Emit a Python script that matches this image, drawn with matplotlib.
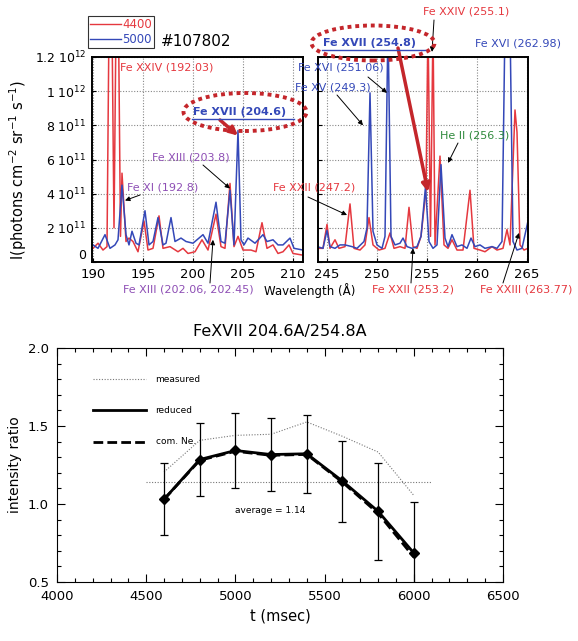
import matplotlib.pyplot as plt
from matplotlib.patches import Ellipse
from matplotlib.lines import Line2D
from matplotlib.ticker import MultipleLocator

# ---- spectra (#107802), intensity in units of 1e11 photons cm-2 sr-1 s-1 ----
# left window 190-211 A
wl_left_red = [190.0, 190.5, 191.0, 191.4, 191.6, 191.9, 192.1, 192.3, 192.55, 192.75, 192.9, 193.3,
               193.6, 194.0, 194.5, 195.1, 195.5, 196.0, 196.6, 197.0, 197.7, 198.5, 199.0, 199.5,
               200.2, 200.9, 201.5, 202.3, 202.8, 203.2, 203.7, 204.1, 204.5, 205.0, 205.8, 206.3,
               206.9, 207.4, 208.0, 208.5, 209.0, 209.6, 210.0, 211.0]
int_left_red = [0.8, 1.1, 0.7, 0.9, 14.0, 14.0, 2.0, 14.0, 14.0, 1.5, 5.2, 1.2,
                1.4, 1.2, 0.6, 2.4, 0.7, 0.8, 2.7, 0.8, 0.9, 0.6, 0.8, 0.5,
                0.6, 1.3, 0.7, 2.8, 0.9, 0.8, 4.6, 0.9, 1.5, 0.7, 0.7, 0.6,
                2.3, 0.8, 1.0, 0.5, 0.6, 1.0, 0.5, 0.4]
wl_left_blue = [190.0, 190.5, 191.2, 191.7, 192.2, 192.5, 192.9, 193.3, 193.6, 193.9, 194.3, 194.6,
                195.2, 195.6, 196.0, 196.5, 197.0, 197.3, 197.8, 198.2, 198.8, 199.3, 200.0, 201.0,
                201.5, 202.3, 202.8, 203.2, 203.7, 204.1, 204.5, 204.8, 205.1, 205.5, 206.2, 207.0,
                207.4, 208.0, 208.5, 209.0, 209.7, 210.1, 211.0]
int_left_blue = [1.0, 0.8, 1.6, 0.8, 1.0, 1.3, 4.5, 1.6, 1.0, 1.8, 1.1, 1.0,
                 3.0, 1.0, 1.2, 2.6, 1.0, 1.1, 2.6, 1.2, 1.4, 1.2, 1.1, 1.6,
                 1.1, 3.5, 1.2, 1.1, 4.2, 1.0, 7.7, 1.3, 1.0, 1.4, 1.1, 1.6,
                 1.2, 1.3, 1.0, 1.0, 1.4, 0.8, 0.7]
# right window 244-265 A
wl_right_red = [244.0, 244.6, 245.0, 245.3, 245.8, 246.2, 246.8, 247.3, 247.7, 248.3, 248.8, 249.2,
                249.6, 250.2, 250.8, 251.3, 251.7, 252.3, 252.8, 253.2, 253.6, 254.0, 254.4, 254.9,
                255.1, 255.35, 255.6, 255.8, 256.3, 256.7, 257.1, 257.5, 258.0, 258.6, 259.3, 259.7,
                260.3, 260.8, 261.5, 262.0, 262.6, 263.0, 263.3, 263.8, 264.0, 264.3, 264.7, 265.1]
int_right_red = [0.8, 0.8, 2.2, 0.8, 1.3, 0.8, 0.9, 3.4, 0.8, 0.7, 1.0, 2.6,
                 1.0, 0.7, 0.8, 1.7, 0.8, 0.9, 0.8, 3.2, 0.9, 0.8, 1.5, 4.2,
                 14.0, 1.5, 14.0, 1.0, 6.2, 1.0, 0.8, 1.3, 0.7, 0.7, 4.2, 0.8,
                 0.7, 0.6, 0.9, 0.7, 0.8, 1.9, 1.0, 8.9, 7.6, 1.0, 0.7, 0.8]
wl_right_blue = [244.0, 244.6, 245.0, 245.3, 245.8, 246.3, 246.8, 247.5, 248.0, 248.7, 249.0, 249.3,
                 249.6, 250.0, 250.5, 250.8, 251.1, 251.4, 251.8, 252.3, 252.6, 253.0, 253.5, 254.0,
                 254.4, 254.85, 255.2, 255.6, 256.0, 256.4, 256.8, 257.1, 257.5, 258.0, 258.5, 259.0,
                 259.4, 259.8, 260.3, 260.8, 261.5, 262.0, 262.5, 262.8, 263.3, 263.6, 264.0, 264.5,
                 265.1]
int_right_blue = [0.9, 0.8, 1.85, 0.9, 0.8, 1.0, 1.0, 0.9, 0.8, 1.2, 2.0, 9.9,
                  1.8, 1.0, 0.8, 1.5, 14.0, 1.5, 1.0, 1.1, 1.4, 0.9, 0.8, 0.9,
                  1.5, 4.4, 1.2, 0.8, 1.0, 5.7, 1.4, 0.9, 1.6, 0.9, 1.0, 0.8,
                  1.4, 0.9, 1.0, 0.8, 0.9, 0.8, 1.2, 14.0, 14.0, 1.2, 0.7, 0.8,
                  2.4]

# ---- FeXVII 204.6A/254.8A ratio vs time ----
t_ms = [4600, 4800, 5000, 5200, 5400, 5600, 5800, 6000]
ratio_reduced = [1.03, 1.285, 1.343, 1.317, 1.322, 1.147, 0.953, 0.686]
ratio_com_ne = [1.03, 1.280, 1.338, 1.312, 1.318, 1.140, 0.940, 0.660]
ratio_measured = [1.205, 1.408, 1.44, 1.447, 1.526, 1.434, 1.333, 1.055]
err_reduced = [0.23, 0.235, 0.24, 0.235, 0.25, 0.26, 0.31, 0.33]
average_ratio = 1.14

RED = '#e5383f'
BLUE = '#3448b8'
PURPLE = '#8e4fb5'
GREEN = '#2f8a3c'
DARKRED = '#c4262b'

W, H = 578, 641
fig = plt.figure(figsize=(W / 100, H / 100), dpi=100)


def fx(x):
    return x / W


def fy(y):
    return 1 - y / H


def px_axes(x0, y0, x1, y1):
    return fig.add_axes([fx(x0), fy(y1), fx(x1) - fx(x0), (y1 - y0) / H])


ax_l = px_axes(92, 57, 303, 262)
ax_r = px_axes(318, 57, 528, 262)

for ax, wr, ir, wb, ib, xl, xt in [
        (ax_l, wl_left_red, int_left_red, wl_left_blue, int_left_blue, (189.9, 211.0), range(190, 211, 5)),
        (ax_r, wl_right_red, int_right_red, wl_right_blue, int_right_blue, (244.1, 265.1), range(245, 266, 5))]:
    ax.plot(wr, ir, color=RED, lw=1.1)
    ax.plot(wb, ib, color=BLUE, lw=1.1)
    ax.set_xlim(*xl)
    ax.set_ylim(0, 12)
    ax.set_xticks(list(xt))
    ax.set_yticks([0, 2, 4, 6, 8, 10, 12])
    ax.grid(True, color='#888888', ls=(0, (1, 1.5)), lw=0.8)
    ax.tick_params(direction='in', length=3, labelsize=9.5)
    ax.tick_params(axis='x', pad=4)
    ax.tick_params(axis='y', pad=4)
    for s in ax.spines.values():
        s.set_linewidth(1.4)

ax_l.set_yticklabels(['0', r'2 10$^{11}$', r'4 10$^{11}$', r'6 10$^{11}$', r'8 10$^{11}$',
                      r'1 10$^{12}$', r'1.2 10$^{12}$'], fontsize=9)
ax_l.get_yticklabels()[0].set_va('bottom')
ax_r.set_yticklabels([])

fig.text(fx(18), fy(170), r'I(photons cm$^{-2}$ sr$^{-1}$ s$^{-1}$)', rotation=90,
         ha='center', va='center', fontsize=10.5)
fig.text(fx(310), fy(291), 'Wavelength (Å)', ha='center', va='center', fontsize=8.5)

# legend box for the two time slices
leg = ax_l.legend([Line2D([], [], color=RED, lw=1), Line2D([], [], color=BLUE, lw=1)],
                  ['4400', '5000'], loc='lower left', bbox_to_anchor=(fx(88), fy(48)),
                  bbox_transform=fig.transFigure, frameon=True, fancybox=False, fontsize=8.5,
                  handlelength=2.6, handletextpad=0.1, borderpad=0.2, labelspacing=0.1,
                  borderaxespad=0)
leg.get_frame().set_edgecolor('black')
leg.get_frame().set_linewidth(0.8)
for txt, c in zip(leg.get_texts(), [RED, BLUE]):
    txt.set_color(c)
fig.text(fx(161), fy(42), '#107802', fontsize=11, ha='left', va='center')


def label(x, y, s, color, ha='left', bold=False):
    fig.text(fx(x), fy(y), s, color=color, fontsize=8, ha=ha, va='center',
             fontweight='bold' if bold else 'normal')


def pointer(ax, xy, start, color='black', lw=0.7, head=7):
    ax.annotate('', xy=xy, xycoords='data', xytext=(fx(start[0]), fy(start[1])),
                textcoords='figure fraction', annotation_clip=False,
                arrowprops=dict(arrowstyle='-|>', color=color, lw=lw, mutation_scale=head,
                                shrinkA=0, shrinkB=0))


# left window labels
label(120, 68, 'Fe XXIV (192.03)', RED)
label(127, 187, 'Fe XI (192.8)', PURPLE)
pointer(ax_l, (193.2, 3.6), (140, 195))
label(152, 157, 'Fe XIII (203.8)', PURPLE)
pointer(ax_l, (203.7, 4.3), (203, 165))
label(123, 290, 'Fe XIII (202.06, 202.45)', PURPLE)
pointer(ax_l, (202.0, 1.3), (210, 283))
label(193, 112, 'Fe XVII (204.6)', BLUE, bold=True)
fig.add_artist(Line2D([fx(192), fx(294)], [fy(119), fy(119)], color=BLUE, lw=1))
fig.add_artist(Ellipse((fx(245), fy(112)), 123 / W, 38 / H, fill=False, ec=DARKRED,
                       lw=2.8, ls=(0, (1, 1))))
pointer(ax_l, (204.5, 7.4), (220, 120), color=DARKRED, lw=2.5, head=12)

# right window labels
label(423, 11, 'Fe XXIV (255.1)', RED)
pointer(ax_r, (255.5, 12.3), (434, 20))
label(323, 43, 'Fe XVII (254.8)', BLUE, bold=True)
fig.add_artist(Line2D([fx(322), fx(425)], [fy(50), fy(50)], color=BLUE, lw=1))
fig.add_artist(Ellipse((fx(373), fy(43)), 123 / W, 35 / H, fill=False, ec=DARKRED,
                       lw=2.8, ls=(0, (1, 1))))
pointer(ax_r, (255.1, 4.1), (398, 48), color=DARKRED, lw=2.5, head=12)
label(475, 43, 'Fe XVI (262.98)', BLUE)
label(298, 68, 'Fe XVI (251.06)', BLUE)
pointer(ax_r, (251.0, 9.9), (368, 77))
label(295, 87, 'Fe XV (249.3)', BLUE)
pointer(ax_r, (248.6, 8.0), (337, 95))
label(440, 135, 'He II (256.3)', GREEN)
pointer(ax_r, (257.1, 5.8), (458, 143))
label(273, 188, 'Fe XXII (247.2)', RED)
pointer(ax_r, (247.0, 2.75), (308, 197))
label(372, 290, 'Fe XXII (253.2)', RED)
pointer(ax_r, (253.6, 0.8), (411, 283))
label(480, 290, 'Fe XXIII (263.77)', RED)
pointer(ax_r, (264.2, 1.7), (503, 283))

# ---- bottom: intensity ratio ----
ax_b = px_axes(57, 348, 503, 582)
ax_b.plot(t_ms, ratio_measured, color='#777777', ls=(0, (1, 1.5)), lw=0.8)
ax_b.plot([4500, 6100], [average_ratio, average_ratio], color='#777777', ls=(0, (1, 1.5)), lw=0.8)
ax_b.plot(t_ms, ratio_com_ne, color='black', ls=(0, (3.5, 1.5)), lw=2.0)
ax_b.errorbar(t_ms, ratio_reduced, yerr=err_reduced, color='black', lw=2.0, marker='D',
              markersize=5, elinewidth=0.9, capsize=3, capthick=0.9)
ax_b.set_xlim(4000, 6500)
ax_b.set_ylim(0.5, 2.0)
ax_b.xaxis.set_major_locator(MultipleLocator(500))
ax_b.xaxis.set_minor_locator(MultipleLocator(100))
ax_b.yaxis.set_major_locator(MultipleLocator(0.5))
ax_b.yaxis.set_minor_locator(MultipleLocator(0.1))
ax_b.tick_params(which='both', direction='in', top=True, right=True, labelsize=9.5, pad=6)
ax_b.tick_params(which='major', length=6, width=0.8)
ax_b.tick_params(which='minor', length=3, width=0.8)
ax_b.set_title('FeXVII 204.6A/254.8A', fontsize=11.5, pad=9)
ax_b.set_xlabel('t (msec)', fontsize=10.5)
ax_b.set_ylabel('intensity ratio', fontsize=10)

keys = [('measured', dict(color='#777777', ls=(0, (1, 1.5)), lw=0.8), 0.867),
        ('reduced', dict(color='black', lw=2.0), 0.733),
        ('com. Ne.', dict(color='black', ls=(0, (3.5, 1.5)), lw=2.0), 0.6)]
for name, style, yk in keys:
    ax_b.plot([0.08, 0.2], [yk, yk], transform=ax_b.transAxes, **style)
    ax_b.text(0.221, yk, name, transform=ax_b.transAxes, fontsize=6.5, va='center')
ax_b.text(5000, 0.96, 'average = 1.14', fontsize=6.5, va='center')

fig.savefig('out.png', dpi=100)
